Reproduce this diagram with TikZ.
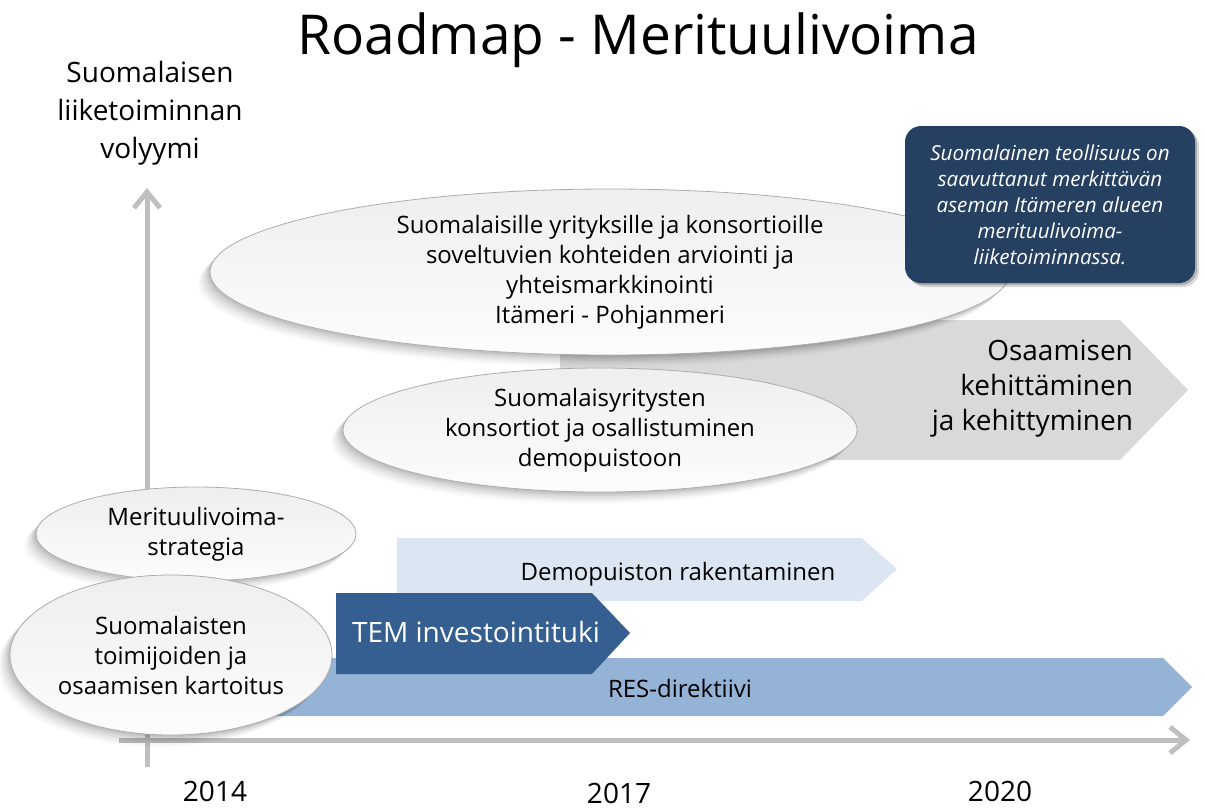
\documentclass[tikz,border=0pt]{standalone}
\usepackage{fontspec}
\setmainfont{Open Sans}
\usetikzlibrary{positioning,shapes.geometric,shadows,arrows.meta}

\definecolor{resblue}{RGB}{149,179,215}
\definecolor{temblue}{RGB}{54,95,145}
\definecolor{demoblue}{RGB}{220,230,242}
\definecolor{bandgray}{RGB}{217,217,217}
\definecolor{goalnavy}{RGB}{37,64,97}
\definecolor{axisgray}{RGB}{191,191,191}

\tikzset{
  bubble/.style={ellipse,inner sep=0pt,align=center,draw=gray!65,line width=0.4pt,
    top color=gray!13,bottom color=gray!2,
    font=\fontsize{12}{15}\selectfont,
    drop shadow={shadow xshift=-1pt,shadow yshift=-1pt,opacity=.07,fill=black},
    drop shadow={shadow xshift=-2pt,shadow yshift=-2pt,opacity=.06,fill=black},
    drop shadow={shadow xshift=-3pt,shadow yshift=-3pt,opacity=.05,fill=black},
    drop shadow={shadow xshift=-4pt,shadow yshift=-4pt,opacity=.04,fill=black},
    drop shadow={shadow xshift=-5pt,shadow yshift=-5pt,opacity=.03,fill=black},
    drop shadow={shadow xshift=-6pt,shadow yshift=-6pt,opacity=.02,fill=black}},
  axis/.style={axisgray,line width=2.5pt,-{Straight Barb[length=8pt,width=13pt]}},
  year/.style={font=\fontsize{14}{17}\selectfont},
  bandtext/.style={font=\fontsize{12}{15}\selectfont},
  goal/.style={rounded corners=8pt,fill=goalnavy,text=white,align=center,
    font=\itshape\fontsize{10.3}{13}\selectfont,
    drop shadow={shadow xshift=1pt,shadow yshift=-1pt,opacity=.2,fill=black},
    drop shadow={shadow xshift=2pt,shadow yshift=-2pt,opacity=.15,fill=black}}
}

\begin{document}
\begin{tikzpicture}[x=0.5pt,y=-0.5pt]
\useasboundingbox (0,0) rectangle (1205,809);

% akselit
\coordinate (ybot) at (147,767);
\coordinate (ytop) at (147,188);
\coordinate (xleft) at (119,740);
\coordinate (xright) at (1190,740);
\draw[axis] (ybot) -- (ytop);
\draw[axis] (xleft) -- (xright);

\node[font=\fontsize{27.5}{33}\selectfont] (title) at (638,40) {Roadmap - Merituulivoima};
\node[align=center,font=\fontsize{14}{19}\selectfont] (volyymi) at (150,113)
  {Suomalaisen\\liiketoiminnan\\volyymi};

\node[year] (y2014) at (215,791) {2014};
\node[year] (y2017) at (619,793) {2017};
\node[year] (y2020) at (1000,791) {2020};

% nuolet
\fill[resblue] (270,658) -- (1163,658) -- (1192,687) -- (1163,716) -- (270,716) -- cycle;
\node[bandtext] (res) at (680,688) {RES-direktiivi};

\fill[demoblue] (397,538) -- (862,538) -- (897,569) -- (862,601) -- (397,601) -- cycle;
\node[bandtext] (demo) at (678,574) {Demopuiston rakentaminen};

\fill[temblue] (336,593) -- (592,593) -- (630,633) -- (592,674) -- (336,674) -- cycle;
\node[text=white,font=\fontsize{14}{17}\selectfont] (tem) at (476,632) {TEM investointituki};

\fill[bandgray] (560,320) -- (1120,320) -- (1188,390) -- (1120,460) -- (560,460) -- cycle;
\node[anchor=east,align=right,font=\fontsize{14}{17.5}\selectfont] (osaaminen) at (1140,389)
  {Osaamisen\\kehittäminen\\ja kehittyminen};

% kuplat
\node[bubble,minimum width=400pt,minimum height=83pt] (arviointi) at (610,272)
  {Suomalaisille yrityksille ja konsortioille\\soveltuvien kohteiden arviointi ja\\yhteismarkkinointi\\Itämeri - Pohjanmeri};
\node[bubble,minimum width=257pt,minimum height=62pt] (konsortiot) at (600,430)
  {Suomalaisyritysten\\konsortiot ja osallistuminen\\demopuistoon};
\node[bubble,minimum width=160pt,minimum height=47pt] (strategia) at (196,534)
  {Merituulivoima-\\strategia};
\node[bubble,minimum width=161pt,minimum height=80pt] (kartoitus) at (171,655)
  {Suomalaisten\\toimijoiden ja\\osaamisen kartoitus};

\node[goal,minimum width=145pt,minimum height=78.5pt] (tavoite) at (1050,204.5)
  {Suomalainen teollisuus on\\saavuttanut merkittävän\\aseman Itämeren alueen\\merituulivoima-\\liiketoiminnassa.};
\end{tikzpicture}
\end{document}
